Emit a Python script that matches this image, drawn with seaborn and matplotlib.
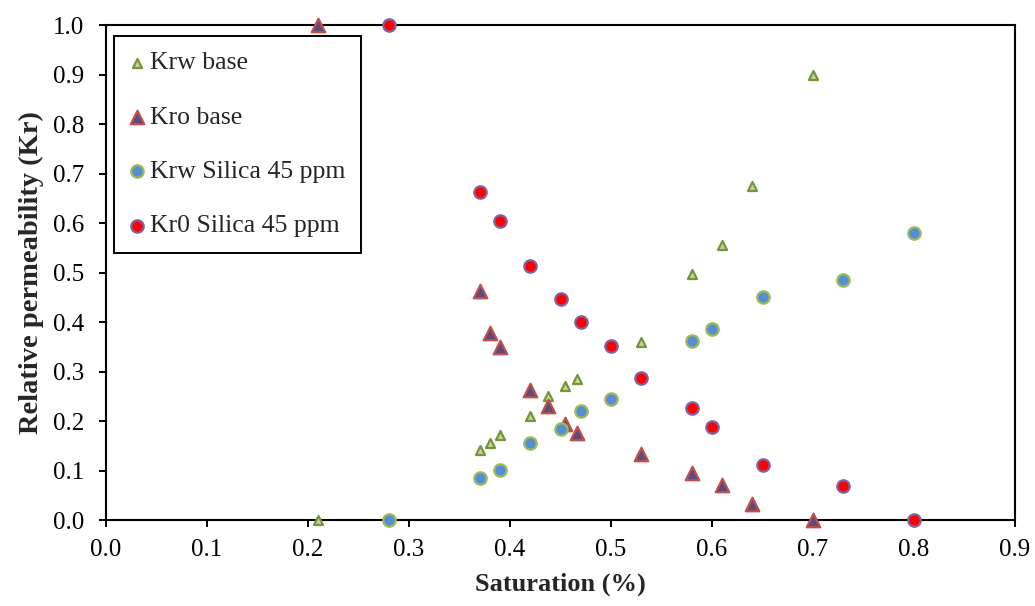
import pandas as pd
import matplotlib
matplotlib.use("Agg")
import matplotlib.pyplot as plt
import seaborn as sns

# Data
sw_base = [0.21, 0.37, 0.38, 0.39, 0.42, 0.438, 0.454, 0.466, 0.53, 0.58, 0.61, 0.64, 0.70]
krw_base = [0.0, 0.141, 0.155, 0.171, 0.210, 0.250, 0.271, 0.285, 0.360, 0.496, 0.556, 0.674, 0.899]
kro_base = [1.0, 0.462, 0.378, 0.349, 0.263, 0.231, 0.193, 0.175, 0.133, 0.095, 0.071, 0.032, 0.0]

sw_silica = [0.28, 0.37, 0.39, 0.42, 0.45, 0.47, 0.50, 0.53, 0.58, 0.60, 0.65, 0.73, 0.80]
krw_silica = [0.0, 0.084, 0.101, 0.155, 0.184, 0.221, 0.245, None, 0.361, 0.385, 0.450, 0.485, 0.579]
kro_silica = [1.0, 0.663, 0.604, 0.513, 0.447, 0.401, 0.351, 0.286, 0.226, 0.187, 0.111, 0.069, 0.0]

base = pd.DataFrame({"Sw": sw_base, "Krw": krw_base, "Kro": kro_base})
silica = pd.DataFrame({"Sw": sw_silica, "Krw": krw_silica, "Kro": kro_silica})

sns.set_style("ticks")
plt.rcParams["font.family"] = ["Liberation Serif", "DejaVu Serif"]

fig = plt.figure(figsize=(10.35, 6.06), dpi=100)
ax = fig.add_axes([0.1024, 0.1419, 0.8783, 0.8168])

# Krw base: small green triangles
sns.scatterplot(x="Sw", y="Krw", data=base, ax=ax, marker="^", s=42,
                color="#C3D69B", edgecolor="#77933C", linewidth=1.6,
                label="Krw base", clip_on=False, zorder=5)
# Kro base: bigger triangles, purple fill red edge
sns.scatterplot(x="Sw", y="Kro", data=base, ax=ax, marker="^", s=95,
                color="#604A7B", edgecolor="#C0504D", linewidth=1.6,
                label="Kro base", clip_on=False, zorder=5)
# Krw silica: blue circles with light green edge
sns.scatterplot(x="Sw", y="Krw", data=silica.dropna(), ax=ax, marker="o", s=80,
                color="#558ED5", edgecolor="#9BBB59", linewidth=1.6,
                label="Krw Silica 45 ppm", clip_on=False, zorder=5)
# Kr0 silica: red circles with purple edge
sns.scatterplot(x="Sw", y="Kro", data=silica, ax=ax, marker="o", s=80,
                color="#FF0000", edgecolor="#8064A2", linewidth=1.6,
                label="Kr0 Silica 45 ppm", clip_on=False, zorder=5)

ax.set_xlim(0, 0.9)
ax.set_ylim(0, 1.0)
ax.set_xticks([i / 10 for i in range(10)])
ax.set_yticks([i / 10 for i in range(11)])
ax.xaxis.set_major_formatter(matplotlib.ticker.FormatStrFormatter("%.1f"))
ax.yaxis.set_major_formatter(matplotlib.ticker.FormatStrFormatter("%.1f"))
ax.tick_params(direction="out", length=5, width=1.4, labelsize=18, colors="black")
ax.tick_params(axis="x", pad=9)
ax.tick_params(axis="y", pad=11)

for sp in ax.spines.values():
    sp.set_visible(True)
    sp.set_color("black")
    sp.set_linewidth(1.5)

ax.set_xlabel("Saturation (%)", fontsize=19, fontweight="bold", labelpad=8)
ax.set_ylabel("Relative permeability (Kr)", fontsize=20.5, fontweight="bold", labelpad=6)

leg = ax.legend(loc="upper left", bbox_to_anchor=(0.009, 0.978), fontsize=18.5,
                frameon=True, fancybox=False, edgecolor="black", framealpha=1,
                labelspacing=1.22, handlelength=0.6, handletextpad=0.2,
                borderpad=0.6, borderaxespad=0)
leg.get_frame().set_linewidth(1.4)

fig.savefig("out.png", dpi=100)
